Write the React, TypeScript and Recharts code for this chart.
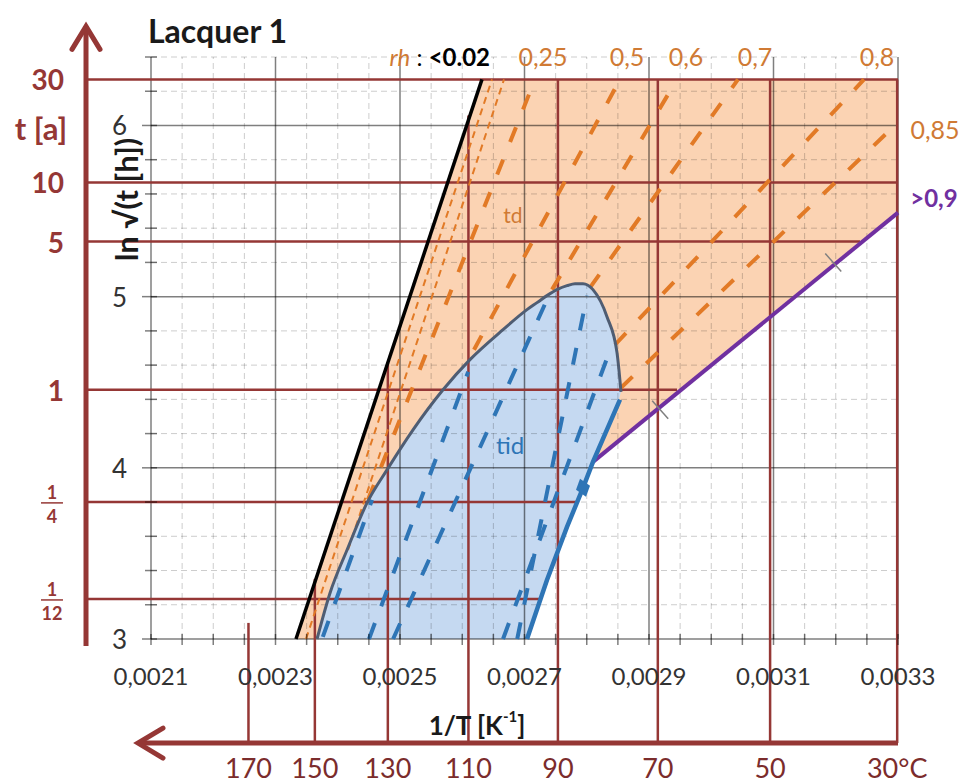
import React from 'react';
import { ComposedChart, XAxis, YAxis, Area, Line, ReferenceLine, ReferenceDot } from 'recharts';

const FONT = "Lato, 'Open Sans', sans-serif";
const RED = '#953735';
const ORANGE_FILL = '#fbd3b3';
const ORANGE = '#e27a26';
const ORANGE_TEXT = '#d07a34';
const BLUE_FILL = '#c5d9f1';
const BLUE = '#2e75b6';
const SLATE = '#4f5d73';
const PURPLE = '#7030a0';
const GRID_MAJOR = 'rgba(0,0,0,0.5)';
const GRID_MINOR = 'rgba(0,0,0,0.2)';

// main axes: 1/T [K^-1] and ln sqrt(t [h])
const X_DOMAIN: [number, number] = [0.0021, 0.0033];
const Y_DOMAIN: [number, number] = [3, 6.4];
const xMajor = [0.0021, 0.0023, 0.0025, 0.0027, 0.0029, 0.0031, 0.0033];
const xMinor = Array.from({ length: 25 }, (_, i) => +(0.0021 + i * 0.00005).toFixed(5));
const yMajor = [3, 4, 5, 6];
const yMinor = Array.from({ length: 18 }, (_, i) => +(3 + i * 0.2).toFixed(1));

// time scale in years, drawn as lines across the plot
const yearLabels = ['30', '10', '5', '1', '1/4', '1/12'];
const yearLevels = [6.269, 5.667, 5.322, 4.456, 3.801, 3.234];
const yearLineEnds = [0.0033, 0.0033, 0.003239, 0.002945, 0.002784, 0.002727];
const yearAxisX = 0.0019956;
const yearLabelX = 0.0019602;

// temperature scale in °C
const tempLabels = [170, 150, 130, 110, 90, 70, 50, 30];
const tempLineTops = [3.094, 3.351, 4.614, 6.058, 6.269, 6.269, 6.269, 6.269];
const tempAxisY = 2.392;
const tempLabelY = 2.252;

// td field (orange)
const tdX = [0.0023329, 0.0026317, 0.002704, 0.00281, 0.0033];
const tdLow = [3.0, 3.0, 3.0, 4.035, 5.491];
const tdHigh = [3.0, 6.269, 6.269, 6.269, 6.269];

// tid field (blue)
const tidX = [0.0023667, 0.0023876, 0.0024149, 0.002447, 0.0024791, 0.0025209, 0.0025691, 0.0026124, 0.0026655, 0.002704,
  0.0027201, 0.0027361, 0.0027522, 0.0027683, 0.0027811, 0.002794, 0.00281, 0.0028325, 0.0028486, 0.002855];
const tidHigh = [3.0, 3.269, 3.52, 3.795, 3.988, 4.222, 4.456, 4.632, 4.807, 4.924,
  4.965, 5.006, 5.041, 5.064, 5.076, 5.076, 5.041, 4.883, 4.673, 4.444];
const tidLow = [3.0, 3.0, 3.0, 3.0, 3.0, 3.0, 3.0, 3.0, 3.0, 3.0,
  3.17, 3.345, 3.503, 3.655, 3.772, 3.883, 4.035, 4.222, 4.36, 4.444];

// rh lines
const rhDry = [[0.0023329, 3.0], [0.0026317, 6.269]];
const rhThin = [
  [[0.002349, 3.0], [0.0026478, 6.269]],
  [[0.0024165, 3.52], [0.0026671, 6.269]],
];
const rhOrange = [
  [[0.0024486, 3.813], [0.0027168, 6.269]],
  [[0.0026189, 4.69], [0.0028534, 6.269]],
  [[0.0027442, 5.041], [0.002945, 6.269]],
  [[0.0028052, 5.053], [0.003043, 6.269]],
  [[0.0028454, 4.719], [0.0032454, 6.269]],
  [[0.002855, 4.468], [0.0033, 6.018]],
];
const rhBlue = [
  [[0.002376, 3.012], [0.0024551, 3.813]],
  [[0.0024502, 3.0], [0.0026096, 4.561]],
  [[0.0024889, 3.0], [0.0027361, 4.982]],
  [[0.0026883, 3.0], [0.0028004, 5.006]],
  [[0.0026655, 3.0], [0.0028406, 4.719]],
];
const rh085Edge = [[0.0028534, 4.398], [0.00281, 4.035], [0.002794, 3.883], [0.0027683, 3.655], [0.0027361, 3.345], [0.002704, 3.0]];
const rhWet = [[0.00281, 4.035], [0.0033, 5.491]];
const wetMarks = [[0.002918, 4.339], [0.003196, 5.199]];
const diamondMark = [0.002794, 3.883];

// labels
const rhTopLabels = ['0,25', '0,5', '0,6', '0,7', '0,8'];
const rhTopX = [0.0027297, 0.0028647, 0.0029594, 0.0030703, 0.0032663];
const rhTopY = 6.404;

const isMajorX = (v: number) => xMajor.some((m) => Math.abs(m - v) < 1e-9);

const XTick = (props: any) => {
  const { x, y, payload } = props;
  const v = payload.value;
  return (
    <g>
      <line x1={x} x2={x} y1={y - 5} y2={y + 6} stroke={GRID_MAJOR} strokeWidth={1.5} />
      {isMajorX(v) && (
        <text x={x} y={y + 36} textAnchor="middle" dominantBaseline="central" fontFamily={FONT} fontSize={24} fill="#333">
          {v.toFixed(4).replace('.', ',')}
        </text>
      )}
    </g>
  );
};

const YTick = (props: any) => {
  const { x, y, payload } = props;
  const v = payload.value;
  const major = yMajor.includes(v);
  return (
    <g>
      <line x1={major ? x - 9 : x - 6} x2={x + 6} y1={y} y2={y} stroke={GRID_MAJOR} strokeWidth={1.5} />
      {major && (
        <text x={x - 24} y={y} textAnchor="end" dominantBaseline="central" fontFamily={FONT} fontSize={26} fill="#333">
          {v}
        </text>
      )}
    </g>
  );
};

type TextOpts = { size: number; color: string; weight?: string | number; anchor?: 'start' | 'middle' | 'end'; italic?: boolean; rotate?: number };
const textAt = (content: React.ReactNode, o: TextOpts) => (p: any) => (
  <text
    x={p.cx}
    y={p.cy}
    textAnchor={o.anchor ?? 'middle'}
    dominantBaseline="central"
    fontFamily={FONT}
    fontSize={o.size}
    fill={o.color}
    fontWeight={o.weight ?? 'normal'}
    fontStyle={o.italic ? 'italic' : 'normal'}
    transform={o.rotate ? `rotate(${o.rotate} ${p.cx} ${p.cy})` : undefined}
  >
    {content}
  </text>
);

const yearShape = (label: string) => (p: any) => {
  if (label.includes('/')) {
    const [num, den] = label.split('/');
    const cx = p.cx - 12;
    return (
      <g fontFamily={FONT} fontWeight="bold" fill={RED} fontSize={18}>
        <text x={cx} y={p.cy - 10} textAnchor="middle" dominantBaseline="central">{num}</text>
        <line x1={cx - 11} x2={cx + 11} y1={p.cy + 1} y2={p.cy + 1} stroke={RED} strokeWidth={1.5} />
        <text x={cx} y={p.cy + 14} textAnchor="middle" dominantBaseline="central">{den}</text>
      </g>
    );
  }
  return (
    <text x={p.cx} y={p.cy} textAnchor="end" dominantBaseline="central" fontFamily={FONT} fontWeight="bold" fontSize={28} fill={RED}>
      {label}
    </text>
  );
};

const crossShape = (p: any) => (
  <line x1={p.cx - 8} y1={p.cy - 9} x2={p.cx + 8} y2={p.cy + 9} stroke="#7f7f7f" strokeWidth={1.5} />
);
const diamondShape = (p: any) => (
  <path d={`M${p.cx - 3} ${p.cy - 9} L${p.cx + 7} ${p.cy - 2} L${p.cx + 3} ${p.cy + 9} L${p.cx - 7} ${p.cy + 2} Z`} fill={BLUE} />
);
const upArrow = (p: any) => (
  <path d={`M${p.cx - 14} ${p.cy + 23} L${p.cx} ${p.cy} L${p.cx + 14} ${p.cy + 23}`} stroke={RED} strokeWidth={5} fill="none" strokeLinecap="round" />
);
const leftArrow = (p: any) => (
  <path d={`M${p.cx + 25} ${p.cy - 15} L${p.cx} ${p.cy} L${p.cx + 25} ${p.cy + 15}`} stroke={RED} strokeWidth={5} fill="none" strokeLinecap="round" />
);

export default function App() {
  const tdData = tdX.map((x, i) => ({ x, band: [tdLow[i], tdHigh[i]] }));
  const tidData = tidX.map((x, i) => ({ x, band: [tidLow[i], tidHigh[i]] }));
  const tidEdge = tidX.map((x, i) => ({ x, y: tidHigh[i] }));
  const toPts = (seg: number[][]) => seg.map(([x, y]) => ({ x, y }));
  const tempX = tempLabels.map((t) => 1 / (t + 273.15));

  return (
    <div style={{ position: 'absolute', left: 0, top: 0, width: 964, height: 783, background: '#fff' }}>
      <ComposedChart width={964} height={783} margin={{ top: 57, right: 66, bottom: 0, left: 0 }}>
        <XAxis dataKey="x" type="number" domain={X_DOMAIN} ticks={xMinor} interval={0} tick={XTick}
          tickLine={false} axisLine={false} tickSize={0} tickMargin={0} height={144} />
        <YAxis type="number" domain={Y_DOMAIN} ticks={yMinor} interval={0} tick={YTick}
          tickLine={false} axisLine={false} tickSize={0} tickMargin={0} width={151} />

        <Area data={tdData} dataKey="band" type="linear" fill={ORANGE_FILL} fillOpacity={1} stroke="none" isAnimationActive={false} />
        <Area data={tidData} dataKey="band" type="monotone" fill={BLUE_FILL} fillOpacity={1} stroke="none" isAnimationActive={false} />

        {xMinor.filter((v) => !isMajorX(v)).map((v) => (
          <ReferenceLine key={`vx${v}`} x={v} stroke={GRID_MINOR} strokeDasharray="6 4" />
        ))}
        {yMinor.filter((v) => !yMajor.includes(v)).map((v) => (
          <ReferenceLine key={`hy${v}`} y={v} stroke={GRID_MINOR} strokeDasharray="6 4" />
        ))}
        {xMajor.map((v) => (
          <ReferenceLine key={`VX${v}`} x={v} stroke={GRID_MAJOR} strokeWidth={1.5} />
        ))}
        {yMajor.map((v) => (
          <ReferenceLine key={`HY${v}`} y={v} stroke={GRID_MAJOR} strokeWidth={1.5} />
        ))}

        {yearLevels.map((y, i) => (
          <ReferenceLine key={`yr${i}`} segment={[{ x: yearAxisX, y }, { x: yearLineEnds[i], y }]} stroke={RED} strokeWidth={2.5} ifOverflow="visible" />
        ))}
        {tempX.map((x, i) => (
          <ReferenceLine key={`tc${i}`} segment={[{ x, y: tempAxisY }, { x, y: tempLineTops[i] }]} stroke={RED} strokeWidth={2.5} ifOverflow="visible" />
        ))}
        <ReferenceLine segment={[{ x: yearAxisX, y: 2.959 }, { x: yearAxisX, y: 6.579 }]} stroke={RED} strokeWidth={5} ifOverflow="visible" />
        <ReferenceLine segment={[{ x: 0.0020791, y: tempAxisY }, { x: 0.0033, y: tempAxisY }]} stroke={RED} strokeWidth={5} ifOverflow="visible" />

        {rhThin.map((seg, i) => (
          <Line key={`thin${i}`} data={toPts(seg)} dataKey="y" type="linear" stroke={ORANGE} strokeWidth={2} strokeDasharray="7 5" dot={false} isAnimationActive={false} />
        ))}
        {rhOrange.map((seg, i) => (
          <Line key={`or${i}`} data={toPts(seg)} dataKey="y" type="linear" stroke={ORANGE} strokeWidth={4} strokeDasharray="16 19" dot={false} isAnimationActive={false} />
        ))}
        {rhBlue.map((seg, i) => (
          <Line key={`bl${i}`} data={toPts(seg)} dataKey="y" type="linear" stroke={BLUE} strokeWidth={4} strokeDasharray="17 18" dot={false} isAnimationActive={false} />
        ))}
        <Line data={toPts(rhDry)} dataKey="y" type="linear" stroke="#000" strokeWidth={3.5} dot={false} isAnimationActive={false} />
        <Line data={toPts(rhWet)} dataKey="y" type="linear" stroke={PURPLE} strokeWidth={4} dot={false} isAnimationActive={false} />
        <Line data={tidEdge} dataKey="y" type="monotone" stroke={SLATE} strokeWidth={3} dot={false} isAnimationActive={false} />
        <Line data={toPts(rh085Edge)} dataKey="y" type="linear" stroke={BLUE} strokeWidth={4.5} dot={false} isAnimationActive={false} />

        {wetMarks.map(([x, y], i) => (
          <ReferenceDot key={`wm${i}`} x={x} y={y} r={1} shape={crossShape} ifOverflow="visible" />
        ))}
        <ReferenceDot x={diamondMark[0]} y={diamondMark[1]} r={1} shape={diamondShape} ifOverflow="visible" />
        <ReferenceDot x={yearAxisX} y={6.579} r={1} shape={upArrow} ifOverflow="visible" />
        <ReferenceDot x={0.0020791} y={tempAxisY} r={1} shape={leftArrow} ifOverflow="visible" />

        <ReferenceDot x={0.0020952} y={6.556} r={1} ifOverflow="visible"
          shape={textAt('Lacquer 1', { size: 32, color: '#1a1a1a', weight: 'bold', anchor: 'start' })} />
        <ReferenceDot x={0.002483} y={rhTopY} r={1} ifOverflow="visible"
          shape={textAt(
            <>
              <tspan fill={ORANGE_TEXT} fontStyle="italic">rh</tspan>
              <tspan fill="#000"> : </tspan>
              <tspan fill="#000" fontWeight="bold">&lt;0.02</tspan>
            </>,
            { size: 24, color: '#000', anchor: 'start' },
          )} />
        {rhTopLabels.map((label, i) => (
          <ReferenceDot key={`rht${i}`} x={rhTopX[i]} y={rhTopY} r={1} ifOverflow="visible"
            shape={textAt(label, { size: 25, color: ORANGE_TEXT })} />
        ))}
        <ReferenceDot x={0.0033594} y={5.977} r={1} ifOverflow="visible" shape={textAt('0,85', { size: 25, color: ORANGE_TEXT })} />
        <ReferenceDot x={0.0033578} y={5.579} r={1} ifOverflow="visible" shape={textAt('>0,9', { size: 24, color: PURPLE, weight: 'bold' })} />
        <ReferenceDot x={0.0026815} y={5.48} r={1} ifOverflow="visible" shape={textAt('td', { size: 21, color: ORANGE_TEXT })} />
        <ReferenceDot x={0.0026767} y={4.135} r={1} ifOverflow="visible" shape={textAt('tid', { size: 24, color: BLUE })} />

        <ReferenceDot x={0.0026237} y={2.5} r={1} ifOverflow="visible"
          shape={textAt(<>1/T [K<tspan dy={-9} fontSize={15}>-1</tspan><tspan dy={9}>]</tspan></>, { size: 26, color: '#1a1a1a', weight: 'bold' })} />
        <ReferenceDot x={0.0020598} y={5.567} r={1} ifOverflow="visible"
          shape={textAt('ln √(t [h])', { size: 31, color: '#1a1a1a', weight: 'bold', rotate: -90 })} />

        {tempX.map((x, i) => (
          <ReferenceDot key={`tl${i}`} x={x} y={tempLabelY} r={1} ifOverflow="visible"
            shape={textAt(i === tempLabels.length - 1 ? `${tempLabels[i]}°C` : String(tempLabels[i]), { size: 27, color: '#7b2c2c' })} />
        ))}
        {yearLabels.map((label, i) => (
          <ReferenceDot key={`yl${i}`} x={yearLabelX} y={yearLevels[i]} r={1} ifOverflow="visible" shape={yearShape(label)} />
        ))}
        <ReferenceDot x={0.0019233} y={5.988} r={1} ifOverflow="visible"
          shape={textAt('t [a]', { size: 31, color: RED, weight: 'bold' })} />
      </ComposedChart>
    </div>
  );
}
